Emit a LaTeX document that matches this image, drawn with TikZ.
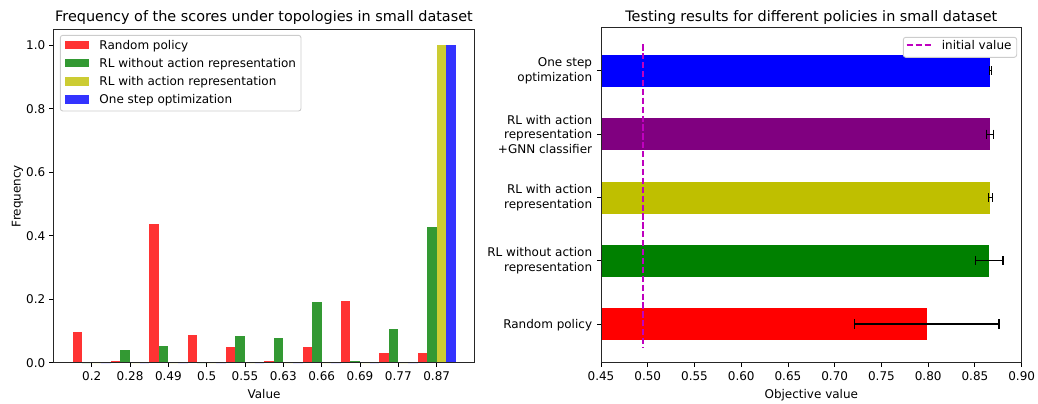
\documentclass[tikz,border=0pt]{standalone}
\usepackage{fontspec}
\setmainfont{DejaVu Sans}
\definecolor{cR}{rgb}{1,0.2,0.2}
\definecolor{cG}{rgb}{0.2,0.6,0.2}
\definecolor{cY}{rgb}{0.8,0.8,0.2}
\definecolor{cB}{rgb}{0.2,0.2,1}
\definecolor{hR}{rgb}{1,0,0}
\definecolor{hG}{rgb}{0,0.5,0}
\definecolor{hY}{rgb}{0.75,0.75,0}
\definecolor{hP}{rgb}{0.5,0,0.5}
\definecolor{hB}{rgb}{0,0,1}
\definecolor{mag}{rgb}{0.75,0,0.75}
\begin{document}
\begin{tikzpicture}[x=1bp,y=-1bp,
  txt/.style={font=\fontsize{12bp}{14.3bp}\selectfont, inner sep=0pt},
  ttl/.style={font=\fontsize{14.4bp}{16bp}\selectfont, inner sep=0pt, anchor=base},
  tickmark/.style={line width=0.9bp, black},
  frame/.style={line width=0.9bp, draw=black!85},
  legbox/.style={rounded corners=2.5bp, draw=black!20, line width=0.9bp, fill=white},
  errbar/.style={line width=1.3bp, black}]
\useasboundingbox (0,0) rectangle (1038,403);

% ---------------- left chart ----------------
\foreach \i/\r/\g/\yy/\b in {0/0.097/0/0/0, 1/0.006/0.04/0/0, 2/0.438/0.053/0/0,
  3/0.086/0/0/0, 4/0.049/0.084/0/0, 5/0.005/0.077/0/0, 6/0.049/0.192/0/0,
  7/0.193/0.006/0/0, 8/0.03/0.105/0/0, 9/0.03/0.426/1/1} {
  \pgfmathsetmacro\c{91.7+38.33*\i}
  \fill[cR] (\c-19.17,362.7) rectangle (\c-9.58,362.7-317.5*\r);
  \fill[cG] (\c-9.58,362.7) rectangle (\c,362.7-317.5*\g);
  \fill[cY] (\c,362.7) rectangle (\c+9.58,362.7-317.5*\yy);
  \fill[cB] (\c+9.58,362.7) rectangle (\c+19.17,362.7-317.5*\b);
}
\draw[frame] (53.3,29.3) rectangle (474.7,362.7);
\foreach \i/\l in {0/0.2, 1/0.28, 2/0.49, 3/0.5, 4/0.55, 5/0.63, 6/0.66, 7/0.69, 8/0.77, 9/0.87} {
  \pgfmathsetmacro\c{91.7+38.33*\i}
  \draw[tickmark] (\c,362.7) -- (\c,366.9);
  \node[txt, anchor=base] (lx\i) at (\c,380.7) {\l};
}
\foreach \k/\l in {0/0.0, 1/0.2, 2/0.4, 3/0.6, 4/0.8, 5/1.0} {
  \pgfmathsetmacro\yv{362.7-63.5*\k}
  \draw[tickmark] (53.3,\yv) -- (49.1,\yv);
  \node[txt, anchor=base east] (ly\k) at (45.5,\yv+4.4) {\l};
}
\node[txt, anchor=base] (lxlab) at (264,398.3) {Value};
\node[txt, anchor=base, rotate=90] (lylab) at (20.7,196) {Frequency};
\node[ttl] (ltitle) at (264,21.7) {Frequency of the scores under topologies in small dataset};
% legend
\draw[legbox] (60.3,35.3) rectangle (301,111);
\foreach \col/\yv/\t [count=\n] in {cR/45/Random policy, cG/63/RL without action representation,
  cY/81.3/RL with action representation, cB/99.3/One step optimization} {
  \fill[\col] (65.3,\yv-4.2) rectangle (89.3,\yv+4.2);
  \node[txt, anchor=base west] (leg\n) at (99.3,\yv+4.4) {\t};
}

% ---------------- right chart ----------------
\foreach \col/\yv/\v in {hR/324/927, hG/260.7/988.7, hY/197.7/990, hP/134.3/990.3, hB/70.7/990.3} {
  \fill[\col] (601,\yv-15.85) rectangle (\v,\yv+15.85);
}
\foreach \yv/\a/\b in {324/854.7/999, 260.7/975.3/1003, 197.7/988.7/992.3, 134.3/986.7/993.7, 70.7/989.2/991.4} {
  \draw[errbar] (\a,\yv) -- (\b,\yv);
  \draw[errbar] (\a,\yv-4.6) -- (\a,\yv+4.6);
  \draw[errbar] (\b,\yv-4.6) -- (\b,\yv+4.6);
}
\draw[mag, line width=1.6bp, dash pattern=on 6.2bp off 2.7bp] (643,44.3) -- (643,347.7);
\draw[frame] (601,27.7) rectangle (1021.7,362.7);
\foreach \k/\l in {0/0.45, 1/0.50, 2/0.55, 3/0.60, 4/0.65, 5/0.70, 6/0.75, 7/0.80, 8/0.85, 9/0.90} {
  \pgfmathsetmacro\c{601+46.74*\k}
  \draw[tickmark] (\c,362.7) -- (\c,366.9);
  \node[txt, anchor=base] (rx\k) at (\c,380.7) {\l};
}
\foreach \yv in {324, 260.7, 197.7, 134.3, 70.7} {
  \draw[tickmark] (601,\yv) -- (596.8,\yv);
}
\node[txt, anchor=base east] (ry0) at (592.3,328.3) {Random policy};
\node[txt, anchor=east, align=right] (ry1) at (592.3,260.7) {RL without action\\representation};
\node[txt, anchor=east, align=right] (ry2) at (592.3,197.7) {RL with action\\representation};
\node[txt, anchor=east, align=right] (ry3) at (592.3,134.3) {RL with action\\representation\\+GNN classifier};
\node[txt, anchor=east, align=right] (ry4) at (592.3,70.7) {One step\\optimization};
\node[txt, anchor=base] (rxlab) at (811.3,398.3) {Objective value};
\node[ttl] (rtitle) at (811.3,21.7) {Testing results for different policies in small dataset};
% legend
\draw[legbox] (903.3,37.3) rectangle (1016.7,57.3);
\coordinate (ls) at (906.7,45);
\coordinate (le) at (933.3,45);
\draw[mag, line width=1.6bp, dash pattern=on 6.2bp off 2.7bp] (ls) -- (le);
\node[txt, anchor=base west] (rleg) at (941.7,49.3) {initial value};
\end{tikzpicture}
\end{document}
